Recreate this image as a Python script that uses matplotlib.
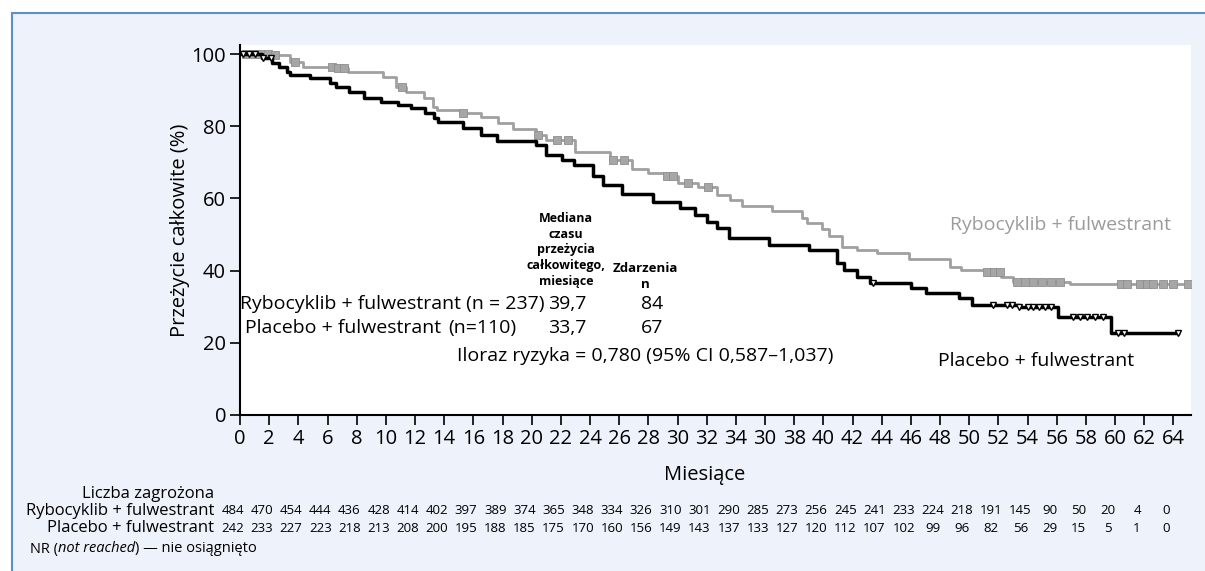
import numpy as np
import matplotlib.pyplot as plt
from matplotlib.patches import Rectangle
from matplotlib.transforms import blended_transform_factory

plt.rcParams['font.family'] = ['Open Sans', 'DejaVu Sans']

# Kaplan-Meier steps (months, % alive)
ribo_t = [0, 2.0, 3.4, 4.3, 6.4, 7.4, 9.8, 10.7, 11.4, 12.6, 13.2, 13.5, 15.1, 16.5, 17.7, 18.7,
          20.3, 21.0, 23.0, 25.4, 26.9, 28.0, 29.2, 30.0, 31.4, 32.7, 33.6, 34.4, 36.5, 38.5, 38.9,
          39.9, 40.4, 41.3, 42.3, 43.7, 45.9, 48.7, 49.4, 51.2, 52.2, 53.0, 56.9]
ribo_s = [100, 99.7, 97.9, 96.5, 96.0, 95.1, 93.7, 91.0, 89.6, 87.7, 85.4, 84.5, 83.6, 82.5, 81.0, 79.3,
          77.6, 76.3, 72.9, 70.6, 68.1, 67.0, 66.2, 64.3, 63.2, 60.9, 59.6, 57.9, 56.6, 54.5, 53.2,
          51.5, 49.6, 46.6, 45.7, 44.9, 43.2, 41.1, 40.2, 39.7, 38.3, 36.9, 36.3]
ribo_end = 65.2
ribo_cens = [0.4, 0.9, 1.4, 1.9, 2.4, 3.8, 6.3, 6.7, 7.1, 11.1, 15.3, 20.4, 21.7, 22.5, 25.6, 26.3,
             29.3, 29.7, 30.7, 32.1, 51.2, 51.7, 52.1, 53.3, 53.8, 54.4, 55.0, 55.6, 56.2, 60.4,
             60.8, 61.7, 62.2, 62.6, 63.3, 64.0, 65.0]

plac_t = [0, 1.5, 2.2, 2.7, 3.2, 3.4, 4.8, 6.2, 6.6, 7.5, 8.5, 9.7, 10.8, 11.7, 12.7, 13.3, 13.6,
          15.3, 16.5, 17.6, 20.3, 21.0, 22.1, 22.9, 24.2, 24.9, 26.2, 28.3, 30.2, 31.2, 32.0, 32.7,
          33.5, 36.3, 39.0, 40.9, 41.4, 42.3, 43.2, 46.0, 47.0, 49.3, 50.2, 53.4, 56.1, 59.7]
plac_s = [100, 99.0, 97.5, 96.5, 95.1, 94.2, 93.3, 91.9, 90.9, 89.6, 87.7, 86.8, 85.9, 85.0, 83.8, 82.2, 81.2,
          79.4, 77.6, 76.0, 74.8, 72.0, 70.6, 69.3, 66.2, 63.7, 61.2, 59.1, 57.3, 55.5, 53.5, 51.8,
          49.0, 47.1, 45.7, 42.0, 40.2, 38.3, 36.7, 35.2, 33.8, 32.4, 30.5, 29.9, 27.2, 22.8]
plac_end = 64.3
plac_cens = [0.2, 0.6, 1.0, 1.6, 2.1, 43.4, 51.6, 52.6, 52.9, 53.4, 54.0, 54.4, 54.8, 55.2, 55.6,
             57.1, 57.6, 58.1, 58.6, 59.2, 60.2, 60.6, 64.3]

months = list(range(0, 65, 2))
month_labels = [str(m) for m in months]
month_labels[18] = '30'  # as printed in the source figure

risk_ribo = [484, 470, 454, 444, 436, 428, 414, 402, 397, 389, 374, 365, 348, 334, 326, 310, 301,
             290, 285, 273, 256, 245, 241, 233, 224, 218, 191, 145, 90, 50, 20, 4, 0]
risk_plac = [242, 233, 227, 223, 218, 213, 208, 200, 195, 188, 185, 175, 170, 160, 156, 149, 143,
             137, 133, 127, 120, 112, 107, 102, 99, 96, 82, 56, 29, 15, 5, 1, 0]

W, H = 1205, 571
fig = plt.figure(figsize=(W / 100, H / 100), dpi=100, facecolor='white')


def px(x, y):
    return x / W, 1 - y / H


# light panel with blue top/left border
fig.patches.append(Rectangle((12 / W, -0.1), 1.2, 1 - 13 / H + 0.1, transform=fig.transFigure,
                             facecolor='#eef2fa', edgecolor='#5b8fd0', linewidth=1.5, zorder=-5))

ax = fig.add_axes([240 / W, 156 / H, (1191 - 240) / W, 370 / H])
ax.set_facecolor('white')


def step_val(ts, ss, t):
    i = np.searchsorted(ts, t, side='right') - 1
    return ss[i]


ax.step(ribo_t + [ribo_end], ribo_s + [ribo_s[-1]], where='post', color='#a0a0a0', lw=2.0, zorder=3)
ax.plot(ribo_cens, [step_val(ribo_t, ribo_s, t) for t in ribo_cens], 's', ms=5.5,
        color='#a6a6a6', mec='#8e8e8e', mew=0.6, zorder=4)
ax.step(plac_t + [plac_end], plac_s + [plac_s[-1]], where='post', color='black', lw=2.5, zorder=5)
ax.plot(plac_cens, [step_val(plac_t, plac_s, t) for t in plac_cens], 'v', ms=5,
        mfc='white', mec='black', mew=1.0, zorder=6)

ax.set_xlim(0, 65.2)
ax.set_ylim(0, 102.5)
ax.set_xticks(months)
ax.set_xticklabels(month_labels)
ax.set_yticks([0, 20, 40, 60, 80, 100])
for s in ['top', 'right']:
    ax.spines[s].set_visible(False)
for s in ['left', 'bottom']:
    ax.spines[s].set_linewidth(1.5)
ax.tick_params(axis='both', length=7, width=1.2, labelsize=14.5, pad=3)
ax.set_ylabel('Przeżycie całkowite (%)', fontsize=14.5)
ax.yaxis.set_label_coords(-0.053, 0.5)
ax.set_xlabel('Miesiące', fontsize=14.5)
ax.xaxis.set_label_coords(0.489, -0.135)

# curve labels
fig.text(*px(950, 225), 'Rybocyklib + fulwestrant', color='#9b9b9b', fontsize=14, va='center')
fig.text(*px(938, 361), 'Placebo + fulwestrant', color='black', fontsize=14, va='center')

# summary table inside the plot
fig.text(*px(566, 250), 'Mediana\nczasu\nprzeżycia\ncałkowitego,\nmiesiące', fontsize=9,
         fontweight='bold', ha='center', va='center', linespacing=1.3)
fig.text(*px(645, 276), 'Zdarzenia\nn', fontsize=9.5, fontweight='bold', ha='center', va='center',
         linespacing=1.3)
fig.text(*px(545, 304), 'Rybocyklib + fulwestrant (n = 237)', fontsize=14, ha='right', va='center')
fig.text(*px(548, 304), '39,7', fontsize=14, ha='left', va='center')
fig.text(*px(652, 304), '84', fontsize=14, ha='center', va='center')
fig.text(*px(441, 328), 'Placebo + fulwestrant', fontsize=14, ha='right', va='center')
fig.text(*px(448, 328), '(n=110)', fontsize=14, ha='left', va='center')
fig.text(*px(548, 328), '33,7', fontsize=14, ha='left', va='center')
fig.text(*px(652, 328), '67', fontsize=14, ha='center', va='center')
fig.text(*px(457, 356), 'Iloraz ryzyka = 0,780 (95% CI 0,587–1,037)', fontsize=14, va='center')

# number at risk
fig.text(*px(214, 494), 'Liczba zagrożona', fontsize=12, ha='right', va='center')
fig.text(*px(214, 511), 'Rybocyklib + fulwestrant', fontsize=12, ha='right', va='center')
fig.text(*px(214, 528), 'Placebo + fulwestrant', fontsize=12, ha='right', va='center')
tr = blended_transform_factory(ax.transData, fig.transFigure)
for m, a, b in zip(months, risk_ribo, risk_plac):
    ax.text(m - 0.5, 1 - 511 / H, str(a), transform=tr, fontsize=9.5, ha='center', va='center')
    ax.text(m - 0.5, 1 - 528 / H, str(b), transform=tr, fontsize=9.5, ha='center', va='center')

t1 = fig.text(*px(30, 549), 'NR (', fontsize=10.5, va='center')
fig.canvas.draw()
r = fig.canvas.get_renderer()
x0 = t1.get_window_extent(r).x1
t2 = fig.text(x0 / W, 1 - 549 / H, 'not reached', fontsize=10.5, style='italic', va='center')
x1 = t2.get_window_extent(r).x1
fig.text(x1 / W, 1 - 549 / H, ') — nie osiągnięto', fontsize=10.5, va='center')

fig.savefig('out.png', dpi=100)
